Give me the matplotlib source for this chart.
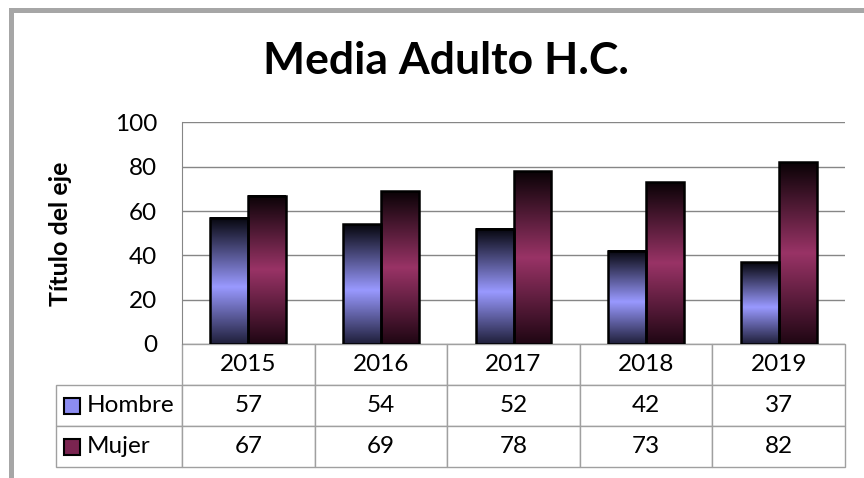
import numpy as np
import matplotlib.pyplot as plt
from matplotlib.colors import LinearSegmentedColormap
from matplotlib.patches import Rectangle
from matplotlib.table import Table

years = ["2015", "2016", "2017", "2018", "2019"]
hombre = [57, 54, 52, 42, 37]
mujer = [67, 69, 78, 73, 82]
series_names = ["Hombre", "Mujer"]
yticks = [0, 20, 40, 60, 80, 100]

plt.rcParams['font.family'] = ['Lato', 'DejaVu Sans']

W, H = 864, 478
fig = plt.figure(figsize=(W / 100, H / 100), dpi=100)
fig.patch.set_facecolor('white')

# plot area in pixels: x 182..845, y 122.5..344
px_l, px_r, px_t, px_b = 182, 845, 122.5, 344
ax = fig.add_axes([px_l / W, 1 - px_b / H, (px_r - px_l) / W, (px_b - px_t) / H])
ax_w, ax_h = px_r - px_l, px_b - px_t

# outer frame (gray, runs off the right and bottom)
fig.patches.append(Rectangle((10.5 / W, -0.2), 1.5, 1 - 9.5 / H + 0.2,
                             transform=fig.transFigure, fill=False,
                             edgecolor='#a6a6a6', lw=3.6, zorder=0))

# gradient maps (bottom -> top)
cmap_h = LinearSegmentedColormap.from_list(
    'h', [(0, '#1f1f3a'), (0.45, '#9999ff'), (1.0, '#05050c')])
cmap_m = LinearSegmentedColormap.from_list(
    'm', [(0, '#1f0613'), (0.5, '#993366'), (1.0, '#0a0206')])

x = np.arange(len(years))
bw = 1 / 3.5
bars_h = ax.bar(x - bw / 2, hombre, bw, facecolor='none', edgecolor='black', lw=1.8, zorder=3)
bars_m = ax.bar(x + bw / 2, mujer, bw, facecolor='none', edgecolor='black', lw=1.8, zorder=3)

grad = np.linspace(0, 1, 256).reshape(-1, 1)
for bars, cmap in [(bars_h, cmap_h), (bars_m, cmap_m)]:
    for p in bars:
        x0, y0 = p.get_x(), p.get_y()
        ax.imshow(grad, extent=[x0, x0 + p.get_width(), y0, y0 + p.get_height()],
                  origin='lower', cmap=cmap, aspect='auto', zorder=2,
                  interpolation='bilinear')

ax.set_xlim(-0.5, len(years) - 0.5)
ax.set_ylim(0, 100)
ax.set_yticks(yticks)
ax.set_xticks([])
ax.tick_params(axis='y', length=0, pad=18, labelsize=17.5)
ax.yaxis.grid(True, color='#868686', lw=1)
ax.set_axisbelow(True)
for s in ['top', 'right', 'bottom']:
    ax.spines[s].set_visible(False)
ax.spines['left'].set_color('#868686')

# data table under the plot
tab_l = 56
lab_w = (px_l - tab_l) / ax_w
col_w = 1 / len(years)
row_h = 41 / ax_h
tab = Table(ax, bbox=[-lab_w, -3 * row_h, lab_w + 1, 3 * row_h])
tab.auto_set_font_size(False)
rows = [[None] + years,
        [series_names[0]] + [str(v) for v in hombre],
        [series_names[1]] + [str(v) for v in mujer]]
for r, row in enumerate(rows):
    for c, txt in enumerate(row):
        w = lab_w if c == 0 else col_w
        cell = tab.add_cell(r, c, w, row_h, text=txt or '',
                            loc='left' if c == 0 else 'center',
                            edgecolor='#a0a0a0', facecolor='white')
        cell.set_linewidth(1)
        cell.get_text().set_fontsize(17.5)
        if c == 0:
            cell.PAD = 0.245
            if r == 0:
                cell.visible_edges = ''
ax.add_table(tab)

# legend keys in the table
key_colors = ['#8c8cf0', '#7a2450']
for i, kc in enumerate(key_colors):
    cy = -(1.5 + i) * row_h
    ax.add_patch(Rectangle(((64 - px_l) / ax_w, cy - 8 / ax_h), 16 / ax_w, 16 / ax_h,
                           transform=ax.transAxes, facecolor=kc, edgecolor='black',
                           lw=1.5, clip_on=False, zorder=5))

fig.text(446 / W, 1 - 61 / H, "Media Adulto H.C.", ha='center', va='center',
         fontsize=32, weight='bold')
fig.text(61 / W, 1 - 233.5 / H, "Título del eje", rotation=90, ha='center',
         va='center', fontsize=18, weight='bold')

fig.savefig('out.png', dpi=100)
